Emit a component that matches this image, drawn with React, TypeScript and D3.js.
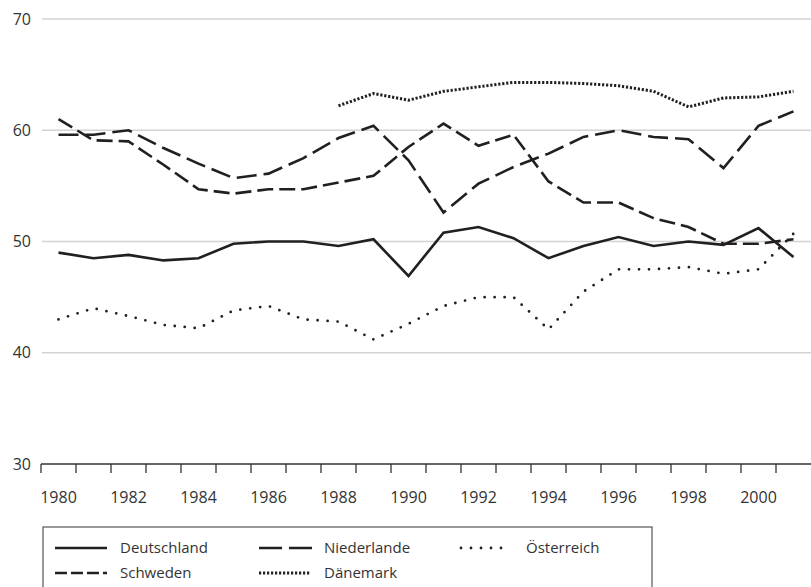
import React from "react";
import * as d3 from "d3";

const years = d3.range(1980, 2002);
const deutschland = [49.0, 48.5, 48.8, 48.3, 48.5, 49.8, 50.0, 50.0, 49.6, 50.2, 46.9, 50.8, 51.3, 50.3, 48.5, 49.6, 50.4, 49.6, 50.0, 49.7, 51.2, 48.6];
const niederlande = [59.6, 59.6, 60.0, 58.4, 57.0, 55.7, 56.1, 57.5, 59.3, 60.4, 57.3, 52.6, 55.2, 56.7, 57.9, 59.4, 60.0, 59.4, 59.2, 56.6, 60.4, 61.7];
const schweden = [61.0, 59.1, 59.0, 56.9, 54.7, 54.3, 54.7, 54.7, 55.3, 55.9, 58.5, 60.6, 58.6, 59.6, 55.4, 53.5, 53.5, 52.1, 51.3, 49.8, 49.8, 50.2];
const oesterreich = [43.0, 44.0, 43.3, 42.5, 42.2, 43.8, 44.2, 43.0, 42.8, 41.2, 42.6, 44.2, 45.0, 45.0, 42.1, 45.5, 47.5, 47.5, 47.7, 47.1, 47.5, 50.7];
const daenemark: (number | null)[] = [null, null, null, null, null, null, null, null, 62.2, 63.3, 62.7, 63.5, 63.9, 64.3, 64.3, 64.2, 64.0, 63.5, 62.1, 62.9, 63.0, 63.5];
const yTicks = [30, 40, 50, 60, 70];
const xTickLabels = [1980, 1982, 1984, 1986, 1988, 1990, 1992, 1994, 1996, 1998, 2000];

const W = 811, H = 587;
const INK = "#231f20";

const series = [
  { name: "Deutschland", values: deutschland as (number | null)[], dash: "none", width: 2.6, cap: "butt", legendDash: "none" },
  { name: "Niederlande", values: niederlande as (number | null)[], dash: "20,7", width: 2.6, cap: "butt", legendDash: "23,7" },
  { name: "Österreich", values: oesterreich as (number | null)[], dash: "0,10", width: 2.8, cap: "round", legendDash: "0,10" },
  { name: "Schweden", values: schweden as (number | null)[], dash: "16,6", width: 2.6, cap: "butt", legendDash: "12,4" },
  { name: "Dänemark", values: daenemark, dash: "2.2,1.8", width: 3, cap: "butt", legendDash: "2.2,1.8" },
];

export default function App() {
  const x = d3.scaleBand<number>().domain(years).range([41, 811]).padding(0);
  const y = d3.scaleLinear().domain([30, 70]).range([464, 19]);
  const cx = (yr: number) => (x(yr) as number) + x.bandwidth() / 2;

  const line = d3
    .line<{ yr: number; v: number | null }>()
    .defined((d) => d.v != null)
    .x((d) => cx(d.yr))
    .y((d) => y(d.v as number));

  const font = "'Open Sans', 'Noto Sans', sans-serif";

  const legendPos = [
    { x: 55, y: 548 },
    { x: 259, y: 548 },
    { x: 461, y: 548 },
    { x: 55, y: 573 },
    { x: 259, y: 573 },
  ];
  const legendLen = [52, 54, 44, 52, 52];

  return (
    <svg width={W} height={H} style={{ position: "absolute", left: 0, top: 0 }} fontFamily={font}>
      <rect x={0} y={0} width={W} height={H} fill="#fff" />
      {yTicks.filter((t) => t > 30).map((t) => (
        <line key={t} x1={42} x2={811} y1={y(t)} y2={y(t)} stroke="#d3d3d3" strokeWidth={1.5} />
      ))}
      {yTicks.map((t) => (
        <text key={t} x={31} y={y(t)} dy="0.35em" textAnchor="end" fontSize={16} fill="#333">
          {t}
        </text>
      ))}
      <line x1={41} x2={811} y1={y(30)} y2={y(30)} stroke="#333" strokeWidth={1.5} />
      {years.map((yr) => (
        <line key={yr} x1={x(yr)} x2={x(yr)} y1={y(30)} y2={y(30) + 9} stroke="#333" strokeWidth={1.3} />
      ))}
      {xTickLabels.map((yr) => (
        <text key={yr} x={cx(yr)} y={503} textAnchor="middle" fontSize={16} fill="#333">
          {yr}
        </text>
      ))}
      {series.map((s) => (
        <path
          key={s.name}
          d={line(years.map((yr, i) => ({ yr, v: s.values[i] }))) || ""}
          fill="none"
          stroke={INK}
          strokeWidth={s.width}
          strokeDasharray={s.dash === "none" ? undefined : s.dash}
          strokeLinecap={s.cap as any}
          strokeLinejoin="miter"
        />
      ))}
      <rect x={43} y={527} width={609} height={80} fill="none" stroke="#555" strokeWidth={1.2} />
      {series.map((s, i) => (
        <g key={s.name}>
          <line
            x1={legendPos[i].x}
            x2={legendPos[i].x + legendLen[i]}
            y1={legendPos[i].y}
            y2={legendPos[i].y}
            stroke={INK}
            strokeWidth={s.width}
            strokeDasharray={s.legendDash === "none" ? undefined : s.legendDash}
            strokeLinecap={s.cap as any}
          />
          <text x={legendPos[i].x + 65} y={legendPos[i].y} dy="0.35em" fontSize={15} fill="#333">
            {s.name}
          </text>
        </g>
      ))}
    </svg>
  );
}
